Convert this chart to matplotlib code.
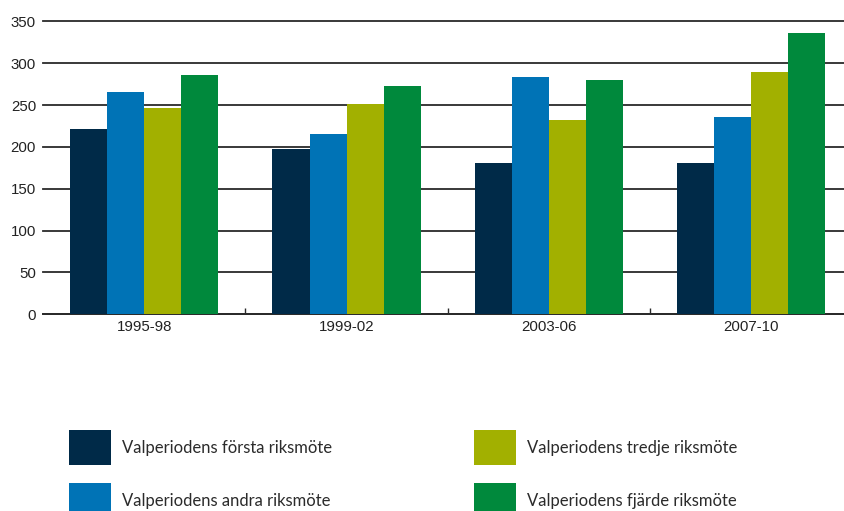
import matplotlib
matplotlib.use("Agg")
import matplotlib.pyplot as plt
from matplotlib.patches import Rectangle
import numpy as np

periods = ["1995-98", "1999-02", "2003-06", "2007-10"]
series_names = [
    "Valperiodens första riksmöte",
    "Valperiodens andra riksmöte",
    "Valperiodens tredje riksmöte",
    "Valperiodens fjärde riksmöte",
]
forsta = [221, 198, 181, 181]
andra = [265, 215, 283, 236]
tredje = [247, 251, 232, 290]
fjarde = [286, 273, 280, 336]
colors = ["#002a48", "#0073b6", "#a2b000", "#00893c"]

yticks = [0, 50, 100, 150, 200, 250, 300, 350]

fig = plt.figure(figsize=(8.44, 5.11), dpi=100)
W, H = 844, 511
ax = fig.add_axes([43 / W, (H - 314.3) / H, (852.5 - 43) / W, (314.3 - 21.3) / H])

x = np.arange(len(periods))
bw = 0.183
values = [forsta, andra, tredje, fjarde]
for i, (vals, c) in enumerate(zip(values, colors)):
    ax.bar(x + (i - 1.5) * bw, vals, width=bw, color=c, zorder=3, linewidth=0)

ax.set_xlim(-0.5, len(periods) - 0.5)
ax.set_ylim(0, 350)
ax.set_yticks(yticks)
ax.set_yticklabels([str(v) for v in yticks], fontsize=10.8, family="Liberation Sans", color="#222222")
ax.tick_params(axis="y", length=0, pad=5)
ax.yaxis.grid(True, color="#2a2a2a", linewidth=1.3, zorder=0)
for gl in ax.get_ygridlines():
    gl.set_clip_on(False)
ax.set_axisbelow(True)

ax.set_xticks(x)
ax.set_xticklabels(periods, fontsize=10.8, family="Liberation Sans", color="#222222")
ax.set_xticks(np.arange(0.5, len(periods) - 0.5, 1), minor=True)
ax.tick_params(axis="x", which="major", length=0, pad=4)
ax.tick_params(axis="x", which="minor", length=4, direction="in", color="#2a2a2a", width=1)

for s in ["top", "right", "left"]:
    ax.spines[s].set_visible(False)
ax.spines["bottom"].set_color("#2a2a2a")
ax.spines["bottom"].set_linewidth(1.3)

# legend, two columns
legend_pos = [(69, 430), (69, 483), (474, 430), (474, 483)]
for (lx, ly), k in zip(legend_pos, range(4)):
    fig.patches.append(Rectangle((lx / W, (H - ly - 35) / H), 42 / W, 35 / H,
                                 transform=fig.transFigure, color=colors[k], linewidth=0))
    fig.text((lx + 53) / W, (H - ly - 17.5) / H, series_names[k], fontsize=12,
             family="Lato", color="#2b2b2b", va="center", ha="left")

fig.savefig("out.png", dpi=100)
